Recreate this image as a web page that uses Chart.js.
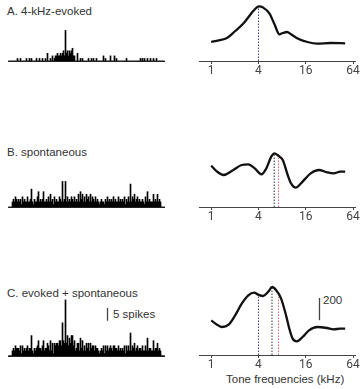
<!DOCTYPE html>
<html><head><meta charset="utf-8">
<script src="https://cdn.jsdelivr.net/npm/chart.js@4"></script>
<style>
html,body{margin:0;padding:0;background:#fff;}
body{width:362px;height:389px;position:relative;overflow:hidden;font-family:"Liberation Sans",Arial,sans-serif;}
canvas{position:absolute;display:block;}
.t{position:absolute;font-size:11.5px;color:#333;white-space:nowrap;line-height:12px;}
</style></head><body>
<div class="t" style="left:7px;top:5px">A. 4-kHz-evoked</div>
<div class="t" style="left:7px;top:146px">B. spontaneous</div>
<div class="t" style="left:7px;top:287px">C. evoked + spontaneous</div>
<div class="t" style="left:113px;top:308px;font-size:11.5px">5 spikes</div>
<div class="t" style="left:323px;top:294px">200</div>
<div class="t" style="left:226px;top:373px">Tone frequencies (kHz)</div>

<canvas id="hA" width="157" height="43" style="left:8px;top:20px;width:157px;height:43px"></canvas>
<canvas id="hB" width="157" height="39" style="left:8px;top:170px;width:157px;height:39px"></canvas>
<canvas id="hC" width="157" height="62" style="left:8px;top:296px;width:157px;height:62px"></canvas>
<canvas id="tA" width="163" height="81" style="left:199px;top:0px;width:163px;height:81px"></canvas>
<canvas id="tB" width="163" height="87" style="left:199px;top:140px;width:163px;height:87px"></canvas>
<canvas id="tC" width="163" height="100" style="left:199px;top:275px;width:163px;height:100px"></canvas>

<script>
// ---------- DATA ----------
// spike counts per time bin (evoked by the 4-kHz tone)
const evokedCounts = [
  0,0,0,0,0,0,0,0,0,1,
  0,0,1,0,0,0,0,0,1,0,
  0,1,0,1,0,0,0,0,1,0,
  0,1,0,0,1,0,0,1,0,3,
  0,0,1,0,2,0,1,2,2,3,
  2,2,3,2,3,4,2,12,3,4,
  2,4,3,4,5,2,2,0,0,3,
  0,0,1,0,1,0,0,0,0,0,
  1,0,0,1,0,1,0,0,1,0,
  0,0,0,0,0,2,0,1,0,0,
  0,0,2,0,0,0,2,0,1,0,
  0,0,0,0,0,0,0,0,1,0,
  0,0,0,0,0,0,0,0,0,0,
  0,0,1,0,1,0,1,0,0,1,
  0,0,1,0,0,1,0,0,1,0,
  0,0,0,0,0,0,0
];
// spontaneous spike counts per time bin
const spontCounts = [
  0,0,0,0,2,3,2,4,3,2,
  3,2,3,1,4,2,3,2,2,4,
  2,2,3,7,2,1,3,2,2,4,
  6,2,3,2,3,6,2,2,3,2,
  4,2,5,2,3,1,4,2,3,2,
  2,4,3,2,10,2,3,10,2,4,
  2,3,2,4,3,2,4,2,3,2,
  5,2,6,3,5,2,4,2,5,3,
  4,2,5,2,4,3,2,4,2,3,
  2,1,2,3,2,2,1,3,2,4,
  2,3,2,3,2,4,2,3,2,2,
  4,2,3,2,3,2,4,1,3,2,
  4,2,9,2,4,3,5,2,3,4,
  2,3,2,2,3,2,1,4,2,6,
  2,3,2,2,2,5,2,3,2,5,
  2,3,2,0,0,0,0
];
const timeBins = evokedCounts.map((_, i) => i + 1);

// tuning curves: tone frequency (kHz) vs. response (spikes/s)
const freqsA = [1, 1.25, 1.59, 2.02, 2.57, 3.27, 3.78, 4.08, 4.58, 5.54, 6.4, 7.4, 8.16, 9.24, 10.4, 12.6, 16.8, 22.4, 32.9, 50.8];
const rateA  = [171, 186, 207, 270, 337, 432, 481, 492, 481, 427, 330, 240, 252, 261, 240, 202, 171, 157, 162, 159];

const freqsB = [1, 1.19, 1.44, 1.83, 2.45, 2.97, 3.59, 4.36, 5.04, 5.82, 6.4, 7.4, 8.16, 9.43, 10.4, 12.0, 13.9, 18.5, 23.5, 29.9, 36.2, 44, 50.8];
const rateB  = [372, 318, 288, 324, 378, 384, 348, 294, 348, 453, 483, 453, 423, 288, 213, 174, 213, 303, 333, 312, 303, 318, 318];

const freqsC = [1, 1.19, 1.37, 1.67, 2.02, 2.45, 2.97, 3.53, 3.97, 4.58, 5.29, 5.99, 6.73, 7.77, 8.98, 9.88, 10.9, 12.3, 14.6, 17.6, 22.4, 29.9, 36.2, 44, 50.8];
const rateC  = [312, 273, 252, 273, 357, 462, 537, 561, 543, 531, 567, 612, 582, 507, 357, 237, 147, 123, 162, 222, 252, 243, 231, 237, 237];

// marker frequencies (dotted lines) and the response where they meet the curve
const markerFreqsA = [4];
const markerTopsA  = [490];
const markerFreqsB = [6.35, 7.2];
const markerTopsB  = [483, 441];
const markerFreqsC = [4, 5.95, 7.2];
const markerTopsC  = [540, 612, 522];

const tickFreqs  = [1, 4, 16, 64];
const tickLabels = ['1', '4', '16', '64'];

const spikeScaleBar = 5;   // spikes
const rateScaleBar = 200;  // spikes/s

// ---------- STYLE / LAYOUT ----------
Chart.defaults.animation = false;
Chart.defaults.font.family = 'Roboto, "Liberation Sans", sans-serif';
const pxPerSpike = 2.55;
const pxPerRate = 1 / 9;

function vBarPlugin(value, xCss, topCss, color) {
  return {
    id: 'vbar',
    afterDraw(chart) {
      const y = chart.scales.y;
      const len = y.getPixelForValue(0) - y.getPixelForValue(value);
      const ctx = chart.ctx;
      ctx.save();
      ctx.strokeStyle = color;
      ctx.lineWidth = 1.3;
      ctx.beginPath();
      ctx.moveTo(xCss, topCss);
      ctx.lineTo(xCss, topCss + len);
      ctx.stroke();
      ctx.restore();
    }
  };
}

function histChart(id, datasets, areaH, plugins) {
  return new Chart(document.getElementById(id), {
    type: 'bar',
    data: { labels: timeBins, datasets: datasets.map(d => ({
      data: d, backgroundColor: '#000', borderWidth: 0,
      barPercentage: 1, categoryPercentage: 1
    })) },
    options: {
      responsive: false,
      layout: { padding: { left: 0, right: 0, top: 0, bottom: 2 } },
      plugins: { legend: { display: false }, tooltip: { enabled: false } },
      scales: {
        x: {
          stacked: true,
          grid: { display: false, drawTicks: false },
          ticks: { display: false },
          border: { display: true, color: '#222', width: 1 },
          afterFit: s => { s.height = 0; s.paddingLeft = 0; s.paddingRight = 0; }
        },
        y: { stacked: true, display: false, min: 0, max: areaH / pxPerSpike }
      }
    },
    plugins: plugins || []
  });
}

histChart('hA', [evokedCounts], 41);
histChart('hB', [spontCounts], 37);
histChart('hC', [evokedCounts, spontCounts], 60, [vBarPlugin(spikeScaleBar, 99.5, 12, '#444')]);

const markerColors = { blue: '#3d3d9e', black: '#333333', red: '#e06666' };

function tuningChart(id, freqs, rates, mFreqs, mTops, mColors, areaH, plugins) {
  const datasets = [{
    data: freqs.map((f, i) => ({ x: f, y: rates[i] })),
    borderColor: '#111', borderWidth: 2.3, pointRadius: 0,
    cubicInterpolationMode: 'monotone', order: 0
  }];
  mFreqs.forEach((f, i) => {
    datasets.push({
      data: [{ x: f, y: 0 }, { x: f, y: mTops[i] }],
      borderColor: mColors[i], borderWidth: 1, borderDash: [1.5, 1.5],
      pointRadius: 0, order: 1
    });
  });
  return new Chart(document.getElementById(id), {
    type: 'line',
    data: { datasets },
    options: {
      responsive: false,
      layout: { padding: { left: 0, right: 7, top: 0, bottom: 0 } },
      plugins: { legend: { display: false }, tooltip: { enabled: false } },
      scales: {
        x: {
          type: 'logarithmic', min: 0.7492, max: 67.81,
          grid: { display: true, drawOnChartArea: false, drawTicks: true, tickLength: 3, color: '#444' },
          border: { display: true, color: '#444', width: 1 },
          ticks: { color: '#444', font: { size: 12 }, padding: 0, maxRotation: 0, autoSkip: false,
                   callback: (v, i) => tickLabels[i] },
          afterBuildTicks: s => { s.ticks = tickFreqs.map(v => ({ value: v })); },
          afterFit: s => { s.height = 20; s.paddingLeft = 0; s.paddingRight = 0; }
        },
        y: { display: false, min: 0, max: areaH / pxPerRate }
      }
    },
    plugins: plugins || []
  });
}

tuningChart('tA', freqsA, rateA, markerFreqsA, markerTopsA, [markerColors.blue], 61);
tuningChart('tB', freqsB, rateB, markerFreqsB, markerTopsB, [markerColors.black, markerColors.red], 67);
tuningChart('tC', freqsC, rateC, markerFreqsC, markerTopsC, [markerColors.blue, markerColors.black, markerColors.red], 80,
  [vBarPlugin(rateScaleBar, 120.5, 23, '#444')]);
</script>
</body></html>
